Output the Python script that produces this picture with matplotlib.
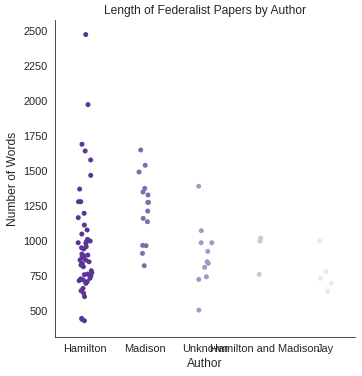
import numpy as np
import pandas as pd
import matplotlib
matplotlib.use("Agg")
import matplotlib.pyplot as plt
import seaborn as sns

# word counts, per author
authors = ["Hamilton", "Madison", "Unknown", "Hamilton and Madison", "Jay"]

hamilton = [2474, 1974, 1691, 1643, 1579, 1469, 1371, 1281, 1281, 1198, 1167,
            1114, 1079, 1050, 1012, 995, 988, 984, 952, 943, 907, 900, 893,
            864, 864, 852, 836, 829, 817, 788, 774, 764, 750, 734, 722, 717,
            710, 698, 662, 645, 627, 603, 448, 441, 431,
            1000, 960, 880, 840, 760, 730]
madison = [1650, 1541, 1493, 1376, 1350, 1329, 1276, 1276, 1214, 1162, 1138,
           969, 967, 912, 824]
unknown = [1391, 1074, 988, 988, 926, 852, 841, 812, 745, 726, 507]
ham_mad = [1021, 1000, 762]
jay = [1000, 781, 734, 698, 641]

values = [hamilton, madison, unknown, ham_mad, jay]

df = pd.DataFrame({
    "Author": [a for a, v in zip(authors, values) for _ in v],
    "Number of Words": [w for v in values for w in v],
})

sns.set_style("white")
plt.rcParams["font.family"] = ["Liberation Sans", "DejaVu Sans"]

fig = plt.figure(figsize=(362 / 72, 376 / 72), dpi=72)
ax = fig.add_axes([55 / 362, 1 - 337 / 376, 300 / 362, 317 / 376])

np.random.seed(3)
sns.stripplot(data=df, x="Author", y="Number of Words", hue="Author",
              order=authors, hue_order=authors, palette="Purples_r",
              jitter=0.12, size=5, legend=False, ax=ax)

ax.set_xlim(-0.5, 4.5)
ax.set_ylim(315, 2578)
ax.set_yticks([500, 750, 1000, 1250, 1500, 1750, 2000, 2250, 2500])
ax.tick_params(labelsize=11)
ax.set_xlabel("Author", fontsize=12)
ax.set_ylabel("Number of Words", fontsize=12)
ax.set_title("Length of Federalist Papers by Author", fontsize=12)
sns.despine(ax=ax)

fig.savefig("out.png", dpi=72)
